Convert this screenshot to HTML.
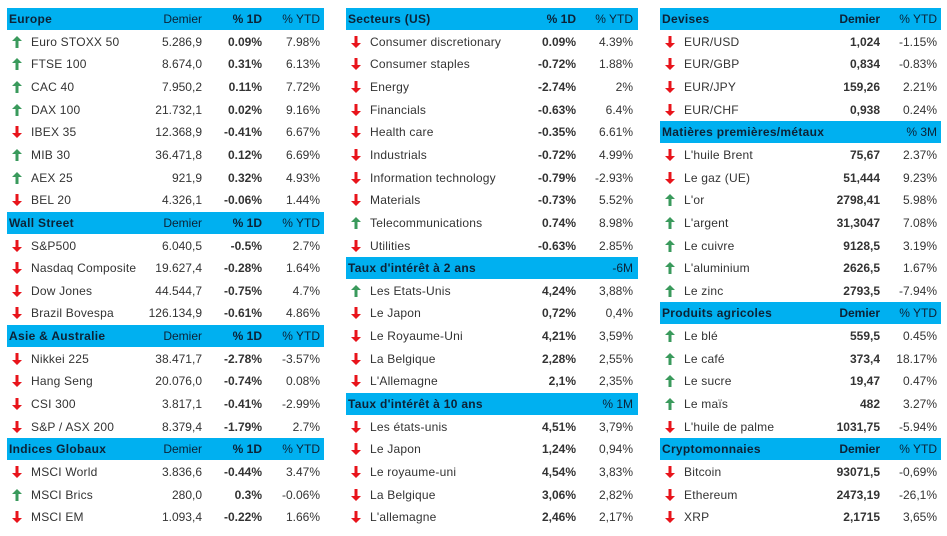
<!DOCTYPE html>
<html><head><meta charset="utf-8">
<style>
body{margin:0;width:947px;height:536px;background:#fff;font-family:"Liberation Sans",sans-serif;font-size:12px;color:#333;position:relative;overflow:hidden}
.r{position:absolute;height:22.65px;line-height:22.65px;white-space:nowrap}
.h{background:#00B0F0;color:#0c2236;height:22px}
.c{position:absolute;top:0;white-space:nowrap}
.b{font-weight:bold}
.rt{text-align:right}
</style></head><body>
<div id="root"></div>
<script>
// each block: [title, colHeaders..., rows]; row: [dir, name, v1, v2, v3]
const col1 = [
 ["h","Europe","Demier","% 1D","% YTD"],
 ["u","Euro STOXX 50","5.286,9","0.09%","7.98%"],
 ["u","FTSE 100","8.674,0","0.31%","6.13%"],
 ["u","CAC 40","7.950,2","0.11%","7.72%"],
 ["u","DAX 100","21.732,1","0.02%","9.16%"],
 ["d","IBEX 35","12.368,9","-0.41%","6.67%"],
 ["u","MIB 30","36.471,8","0.12%","6.69%"],
 ["u","AEX 25","921,9","0.32%","4.93%"],
 ["d","BEL 20","4.326,1","-0.06%","1.44%"],
 ["h","Wall Street","Demier","% 1D","% YTD"],
 ["d","S&P500","6.040,5","-0.5%","2.7%"],
 ["d","Nasdaq Composite","19.627,4","-0.28%","1.64%"],
 ["d","Dow Jones","44.544,7","-0.75%","4.7%"],
 ["d","Brazil Bovespa","126.134,9","-0.61%","4.86%"],
 ["h","Asie & Australie","Demier","% 1D","% YTD"],
 ["d","Nikkei 225","38.471,7","-2.78%","-3.57%"],
 ["d","Hang Seng","20.076,0","-0.74%","0.08%"],
 ["d","CSI 300","3.817,1","-0.41%","-2.99%"],
 ["d","S&P / ASX 200","8.379,4","-1.79%","2.7%"],
 ["h","Indices Globaux","Demier","% 1D","% YTD"],
 ["d","MSCI World","3.836,6","-0.44%","3.47%"],
 ["u","MSCI Brics","280,0","0.3%","-0.06%"],
 ["d","MSCI EM","1.093,4","-0.22%","1.66%"]
];
const col2 = [
 ["h","Secteurs (US)","","% 1D","% YTD"],
 ["d","Consumer discretionary","","0.09%","4.39%"],
 ["d","Consumer staples","","-0.72%","1.88%"],
 ["d","Energy","","-2.74%","2%"],
 ["d","Financials","","-0.63%","6.4%"],
 ["d","Health care","","-0.35%","6.61%"],
 ["d","Industrials","","-0.72%","4.99%"],
 ["d","Information technology","","-0.79%","-2.93%"],
 ["d","Materials","","-0.73%","5.52%"],
 ["u","Telecommunications","","0.74%","8.98%"],
 ["d","Utilities","","-0.63%","2.85%"],
 ["h","Taux d'intérêt à 2 ans","","","-6M"],
 ["u","Les Etats-Unis","","4,24%","3,88%"],
 ["d","Le Japon","","0,72%","0,4%"],
 ["d","Le Royaume-Uni","","4,21%","3,59%"],
 ["d","La Belgique","","2,28%","2,55%"],
 ["d","L'Allemagne","","2,1%","2,35%"],
 ["h","Taux d'intérêt à 10 ans","","","% 1M"],
 ["d","Les états-unis","","4,51%","3,79%"],
 ["d","Le Japon","","1,24%","0,94%"],
 ["d","Le royaume-uni","","4,54%","3,83%"],
 ["d","La Belgique","","3,06%","2,82%"],
 ["d","L'allemagne","","2,46%","2,17%"]
];
const col3 = [
 ["h","Devises","Demier","","% YTD"],
 ["d","EUR/USD","1,024","","-1.15%"],
 ["d","EUR/GBP","0,834","","-0.83%"],
 ["d","EUR/JPY","159,26","","2.21%"],
 ["d","EUR/CHF","0,938","","0.24%"],
 ["h","Matières premières/métaux","","","% 3M"],
 ["d","L'huile Brent","75,67","","2.37%"],
 ["d","Le gaz (UE)","51,444","","9.23%"],
 ["u","L'or","2798,41","","5.98%"],
 ["u","L'argent","31,3047","","7.08%"],
 ["u","Le cuivre","9128,5","","3.19%"],
 ["u","L'aluminium","2626,5","","1.67%"],
 ["u","Le zinc","2793,5","","-7.94%"],
 ["h","Produits agricoles","Demier","","% YTD"],
 ["u","Le blé","559,5","","0.45%"],
 ["u","Le café","373,4","","18.17%"],
 ["u","Le sucre","19,47","","0.47%"],
 ["u","Le maïs","482","","3.27%"],
 ["d","L'huile de palme","1031,75","","-5.94%"],
 ["h","Cryptomonnaies","Demier","","% YTD"],
 ["d","Bitcoin","93071,5","","-0,69%"],
 ["d","Ethereum","2473,19","","-26,1%"],
 ["d","XRP","2,1715","","3,65%"]
];
const layouts = [
 {data:col1,x:7,w:317,v1:195,v2:255,v3:313,b1:false,b2:true,hb1:false,hb2:true},
 {data:col2,x:346,w:292,v1:0,v2:230,v3:287,b1:false,b2:true,hb1:false,hb2:true},
 {data:col3,x:660,w:281,v1:220,v2:0,v3:277,b1:true,b2:false,hb1:true,hb2:false}
];
const root=document.getElementById('root');
const TOP=8, RH=22.65;
function cell(parent,txt,right,bold,cls){
 const s=document.createElement('div');
 s.className='c'+(bold?' b':'');
 s.textContent=txt;
 if(right!==null){s.style.right=right+'px';}
 parent.appendChild(s);return s;
}
layouts.forEach((L,ci)=>{
 L.data.forEach((row,i)=>{
  const r=document.createElement('div');
  
  
  r.className='r'+(row[0]==='h'?' h':'');
  r.style.left=L.x+'px';r.style.width=L.w+'px';r.style.top=(TOP+i*RH)+'px';
  if(row[0]==='h'){
   const t=cell(r,row[1],null,true);t.style.left='2px';t.style.letterSpacing='0.3px';
   if(row[2]){const c=cell(r,row[2],L.w-L.v1,L.hb1);}
   if(row[3]){const c=cell(r,row[3],L.w-L.v2,L.hb2);}
   if(row[4]){const c=cell(r,row[4],L.w-L.v3,false);}
  } else {
   const ic=document.createElementNS('http://www.w3.org/2000/svg','svg');
   
   
   ic.setAttribute('width','10');ic.setAttribute('height','12');
   ic.style.position='absolute';ic.style.left='5px';ic.style.top='5px';
   ic.innerHTML=row[0]==='u'
    ?'<path d="M5 0 L10 5 L6.5 5 L6.5 12 L3.5 12 L3.5 5 L0 5Z" fill="#3a9a5c"/>'
    :'<path d="M5 12 L10 7 L6.5 7 L6.5 0 L3.5 0 L3.5 7 L0 7Z" fill="#e8141b"/>';
   r.appendChild(ic);
   const n=cell(r,row[1],null,false);n.style.left='24px';n.style.letterSpacing='0.2px';
   if(row[1]==='Nasdaq Composite'){n.style.width='129px';n.style.overflow='hidden';}
   if(row[2]) cell(r,row[2],L.w-L.v1,L.b1);
   if(row[3]) cell(r,row[3],L.w-L.v2,L.b2);
   if(row[4]) cell(r,row[4],L.w-L.v3,false);
  }
  root.appendChild(r);
 });
});
</script>
</body></html>
